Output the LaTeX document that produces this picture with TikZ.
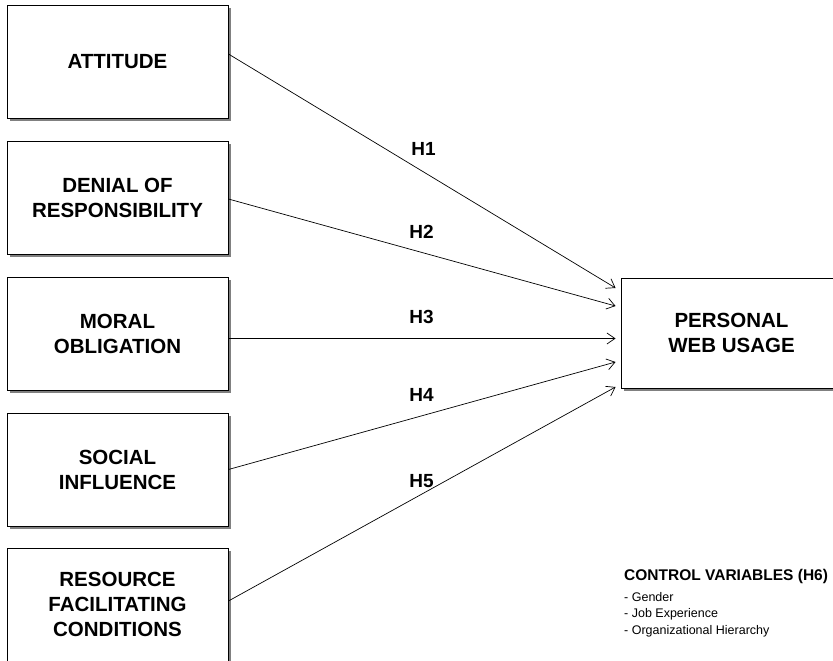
\documentclass[tikz,border=0pt]{standalone}
\usepackage{fontspec}
\setmainfont{Liberation Sans}
\usepackage{tikz}
\usetikzlibrary{arrows.meta,shadows}

\begin{document}
\begin{tikzpicture}[x=1pt, y=-1pt,
    construct/.style={draw=black, line width=0.9pt, fill=white, minimum width=221pt,
      minimum height=113pt, align=center, inner sep=0pt,
      font=\fontsize{20.5}{25}\selectfont\bfseries,
      drop shadow={shadow xshift=3pt, shadow yshift=-3pt, fill=black!50, opacity=1}},
    hyp/.style={-{Straight Barb[length=8pt,width=11pt]}, line width=0.7pt},
    hlabel/.style={font=\fontsize{19}{22}\selectfont\bfseries}]
      \useasboundingbox (0, 0) rectangle (833, 661);
      \clip (0, 0) rectangle (833, 661);
      \node[construct] (att) at (117.5, 61.5) {ATTITUDE};
      \node[construct] (den) at (117.5, 197.5) {DENIAL OF\\RESPONSIBILITY};
      \node[construct] (mor) at (117.5, 333.5) {MORAL\\OBLIGATION};
      \node[construct] (soc) at (117.5, 469.5) {SOCIAL\\INFLUENCE};
      \node[construct] (res) at (117.5, 604.5) {RESOURCE\\FACILITATING\\CONDITIONS};
      \node[construct, minimum height=110pt] (pwu) at (731.5, 333) {PERSONAL\\WEB USAGE};
      \draw[hyp] ([yshift=7.5pt]att.east) -- ([xshift=-5pt, yshift=45pt]pwu.west);
      \draw[hyp] ([yshift=-1.5pt]den.east) -- ([xshift=-5pt, yshift=27pt]pwu.west);
      \draw[hyp] ([yshift=-5pt]mor.east) -- ([xshift=-5pt, yshift=-5.5pt]pwu.west);
      \draw[hyp] (soc.east) -- ([xshift=-5pt, yshift=-29pt]pwu.west);
      \draw[hyp] ([yshift=3.5pt]res.east) -- ([xshift=-5pt, yshift=-54pt]pwu.west);
      \node[hlabel] (h1) at (423.5, 149) {H1};
      \node[hlabel] (h2) at (421.5, 232) {H2};
      \node[hlabel] (h3) at (421.5, 317) {H3};
      \node[hlabel] (h4) at (421.5, 395) {H4};
      \node[hlabel] (h5) at (421.5, 481) {H5};
      \node[anchor=base west, inner sep=0pt, font=\fontsize{15.5}{18}\selectfont\bfseries] (ctrl) at (624, 580) {CONTROL VARIABLES (H6)};
      \node[anchor=north west, inner sep=0pt, align=left, font=\fontsize{12.5}{16.5}\selectfont] (vars) at (624, 592) {- Gender\\- Job Experience\\- Organizational Hierarchy};
\end{tikzpicture}
\end{document}
